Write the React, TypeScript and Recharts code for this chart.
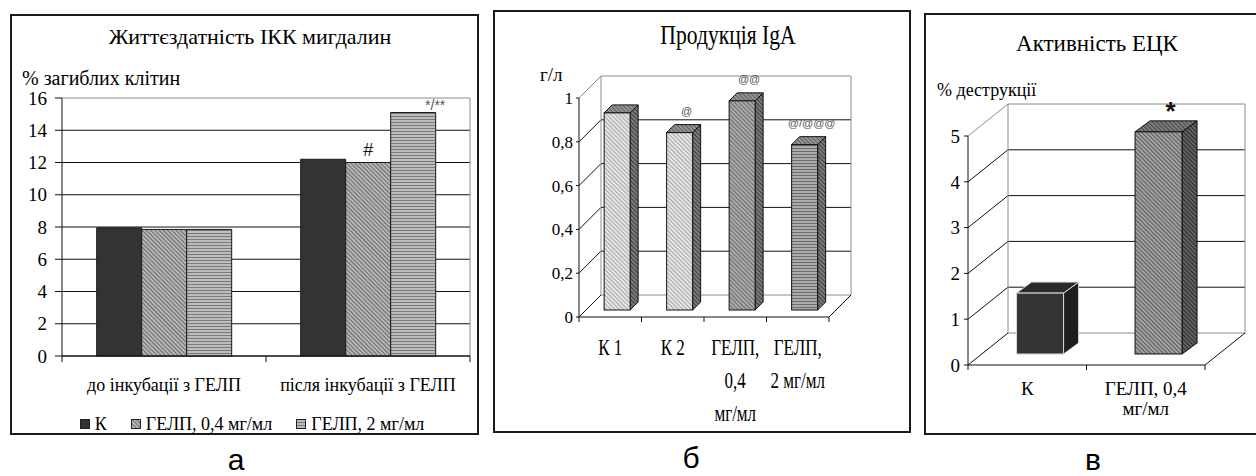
import React from 'react';
import { BarChart, Bar, XAxis, YAxis, CartesianGrid, Legend, LabelList } from 'recharts';

const SERIF = '"Liberation Serif", "Times New Roman", serif';
const SANS = '"Liberation Sans", Arial, sans-serif';

// а) Життєздатність ІКК мигдалин
const viabilityGroups = ['до інкубації з ГЕЛП', 'після інкубації з ГЕЛП'];
const viabilitySeries = ['К', 'ГЕЛП, 0,4 мг/мл', 'ГЕЛП, 2 мг/мл'];
const viabilityK = [7.95, 12.2];
const viabilityGelp04 = [7.85, 12.0];
const viabilityGelp2 = [7.85, 15.1];
const viabilityMarks04 = ['', '#'];
const viabilityMarks2 = ['', '*/**'];
const viabilityTicks = [0, 2, 4, 6, 8, 10, 12, 14, 16];

// б) Продукція IgA
const igaCategories = ['К 1', 'К 2', 'ГЕЛП,\n0,4\nмг/мл', 'ГЕЛП,\n2 мг/мл'];
const igaValues = [0.9, 0.81, 0.955, 0.755];
const igaMarks = ['', '@', '@@', '@/@@@'];
const igaTicks = [0, 0.2, 0.4, 0.6, 0.8, 1];

// в) Активність ЕЦК
const nkCategories = ['К', 'ГЕЛП, 0,4\nмг/мл'];
const nkValues = [1.33, 4.85];
const nkMarks = ['', '*'];
const nkTicks = [0, 1, 2, 3, 4, 5];

const viabilityData = viabilityGroups.map((group, i) => ({
  group,
  k: viabilityK[i],
  g04: viabilityGelp04[i],
  g2: viabilityGelp2[i],
  m04: viabilityMarks04[i],
  m2: viabilityMarks2[i],
}));
const igaData = igaCategories.map((name, i) => ({ name, value: igaValues[i], mark: igaMarks[i] }));
const nkData = nkCategories.map((name, i) => ({ name, value: nkValues[i], mark: nkMarks[i] }));

// hatch fills: id, background, line colour, angle
const hatches: [string, string, string, number][] = [
  ['pa-diag', '#b6b6b6', '#6a6a6a', -45],
  ['pa-stripe', '#bcbcbc', '#7a7a7a', 90],
  ['pb-light', '#e6e6e6', '#a6a6a6', -45],
  ['pb-mid', '#ababab', '#6a6a6a', -45],
  ['pb-stripe', '#acacac', '#6c6c6c', 90],
  ['pb-side', '#7c7c7c', '#3c3c3c', -45],
  ['pb-top', '#959595', '#5e5e5e', -45],
  ['pc-mid', '#a2a2a2', '#5a5a5a', -45],
  ['pc-side', '#626262', '#2a2a2a', -45],
  ['pc-top', '#7c7c7c', '#484848', -45],
];

const hatchDefs = (ids: string[]) => (
  <defs>
    {hatches
      .filter(([id]) => ids.includes(id))
      .map(([id, base, line, angle]) => (
        <pattern key={id} id={id} patternUnits="userSpaceOnUse" width={3} height={3} patternTransform={`rotate(${angle})`}>
          <rect width={3} height={3} fill={base} />
          <line x1={0.5} y1={0} x2={0.5} y2={3} stroke={line} strokeWidth={1} />
        </pattern>
      ))}
  </defs>
);

const INK = '#111';
const EDGE = '#8c8c8c';

// category tick: boundary tick marks (Excel style) + multi-line label
const categoryTick = (cfg: { size: number; first: number; lineH: number; sx?: number; half: number; tickLen: number }) =>
  (props: any) => {
    const { x, y, payload, index, visibleTicksCount } = props;
    const half = payload?.offset || cfg.half;
    const lines = String(payload?.value ?? '').split('\n');
    const sx = cfg.sx ?? 1;
    return (
      <g>
        <line x1={x - half} y1={y} x2={x - half} y2={y + cfg.tickLen} stroke={INK} />
        {index === visibleTicksCount - 1 && (
          <line x1={x + half} y1={y} x2={x + half} y2={y + cfg.tickLen} stroke={INK} />
        )}
        {lines.map((ln, i) => (
          <text
            key={i}
            transform={`translate(${x},${y + cfg.first + i * cfg.lineH}) scale(${sx},1)`}
            textAnchor="middle"
            fontSize={cfg.size}
            fontFamily={SERIF}
            fill="#000"
          >
            {ln}
          </text>
        ))}
      </g>
    );
  };

// flat grid: dark lines, grey frame on top and right
const flatGrid = (p: any) => {
  const { x1, x2, y1, y, height } = p;
  const isTop = Math.abs(y1 - y) < 0.5;
  return (
    <g>
      <line x1={x1} y1={y1} x2={x2} y2={y1} stroke={isTop ? EDGE : INK} />
      {isTop && <line x1={x2} y1={y1} x2={x2} y2={y1 + height} stroke={EDGE} />}
    </g>
  );
};

// 3D walls: side-wall diagonal + back-wall line for every tick
const wallGrid = (dx: number, dy: number) => (p: any) => {
  const { x1, x2, y1, y, height } = p;
  const isTop = Math.abs(y1 - y) < 0.5;
  const isBottom = Math.abs(y1 - (y + height)) < 0.5;
  const by = y1 - dy;
  return (
    <g>
      <line x1={x1} y1={y1} x2={x1 + dx} y2={by} stroke={isTop ? EDGE : INK} />
      <line x1={x1 + dx} y1={by} x2={x2 + dx} y2={by} stroke={isTop || isBottom ? EDGE : INK} />
      {isTop && (
        <>
          <line x1={x1 + dx} y1={by} x2={x1 + dx} y2={by + height} stroke={EDGE} />
          <line x1={x2 + dx} y1={by} x2={x2 + dx} y2={by + height} stroke={EDGE} />
        </>
      )}
      {isBottom && <line x1={x2} y1={y1} x2={x2 + dx} y2={by} stroke={INK} />}
    </g>
  );
};

type BoxStyle = { shift: [number, number]; depth: [number, number]; face: string[]; side: string[]; top: string[]; stroke: string[] };

const box3d = (s: BoxStyle) => (p: any) => {
  const { x, y, width: w, height: h, index } = p;
  if (h == null || isNaN(h)) return null;
  const fx = x + s.shift[0];
  const fy = y - s.shift[1];
  const [ddx, ddy] = s.depth;
  const top = `${fx},${fy} ${fx + ddx},${fy - ddy} ${fx + w + ddx},${fy - ddy} ${fx + w},${fy}`;
  const side = `${fx + w},${fy} ${fx + w + ddx},${fy - ddy} ${fx + w + ddx},${fy + h - ddy} ${fx + w},${fy + h}`;
  return (
    <g>
      <polygon points={side} fill={s.side[index]} stroke={s.stroke[index]} />
      <polygon points={top} fill={s.top[index]} stroke={s.stroke[index]} />
      <rect x={fx} y={fy} width={w} height={h} fill={s.face[index]} stroke={s.stroke[index]} />
    </g>
  );
};

const markLabel = (o: { dx: number; dy: number; size: number; color: string; weight?: number }) => (p: any) => {
  if (!p.value) return null;
  const vb = p.viewBox ?? p;
  const x = (vb.x ?? p.x) + (vb.width ?? p.width) / 2 + o.dx;
  const y = (vb.y ?? p.y) + o.dy;
  return (
    <text x={x} y={y} textAnchor="middle" fontSize={o.size} fontFamily={SANS} fill={o.color} fontWeight={o.weight ?? 400}>
      {p.value}
    </text>
  );
};

const viabilityLegend = (props: any) => {
  const items = [...(props.payload || [])].sort(
    (a: any, b: any) => viabilitySeries.indexOf(a.value) - viabilitySeries.indexOf(b.value)
  );
  return (
    <div style={{ display: 'flex', justifyContent: 'center', gap: 24, fontSize: 18, lineHeight: '18px', fontFamily: SERIF, paddingLeft: 14 }}>
      {items.map((e: any) => (
        <span key={e.value} style={{ display: 'inline-flex', alignItems: 'center', gap: 5 }}>
          <svg width={10} height={10}>
            <rect x={0.5} y={0.5} width={9} height={9} fill={e.payload?.fill ?? e.color} stroke="#222" />
          </svg>
          {e.value}
        </span>
      ))}
    </div>
  );
};

const Text = ({ x, y, size, children, sx = 1, center = true, font = SERIF }: any) => (
  <div
    style={{
      position: 'absolute',
      left: x,
      top: y,
      fontSize: size,
      fontFamily: font,
      lineHeight: 1,
      whiteSpace: 'nowrap',
      color: '#000',
      transform: `translate(${center ? '-50%' : '0'}, -50%) scaleX(${sx})`,
      transformOrigin: center ? '50% 50%' : '0 50%',
    }}
  >
    {children}
  </div>
);

const Frame = ({ left, top, width, height }: any) => (
  <div style={{ position: 'absolute', left, top, width, height, border: '2px solid #1a1a1a', boxSizing: 'border-box' }} />
);

const commaFmt = (v: number) => String(v).replace('.', ',');

export default function App() {
  return (
    <div style={{ position: 'fixed', left: 0, top: 0, width: 1256, height: 476, background: '#fff', overflow: 'hidden', fontFamily: SERIF }}>
      {/* а */}
      <Frame left={10} top={14} width={469} height={421} />
      <div style={{ position: 'absolute', left: 10, top: 14 }}>
        <BarChart width={469} height={421} data={viabilityData} margin={{ top: 84, right: 9, left: 10, bottom: 2 }} barCategoryGap="17%" barGap={0}>
          {hatchDefs(['pa-diag', 'pa-stripe'])}
          <CartesianGrid vertical={false} horizontal={flatGrid} />
          <XAxis
            dataKey="group"
            interval={0}
            height={59}
            tickSize={0}
            tickMargin={0}
            axisLine={{ stroke: INK }}
            tick={categoryTick({ size: 18, first: 35, lineH: 20, half: 102, tickLen: 6 })}
          />
          <YAxis
            width={42}
            domain={[0, 16]}
            ticks={viabilityTicks}
            interval={0}
            tickSize={7}
            tickMargin={8}
            axisLine={{ stroke: INK }}
            tickLine={{ stroke: INK }}
            tick={{ fontSize: 19, fill: '#000', fontFamily: SERIF }}
          />
          <Legend verticalAlign="bottom" height={18} content={viabilityLegend} />
          <Bar dataKey="k" name={viabilitySeries[0]} fill="#333333" stroke="#1a1a1a" isAnimationActive={false} />
          <Bar dataKey="g04" name={viabilitySeries[1]} fill="url(#pa-diag)" stroke="#1a1a1a" isAnimationActive={false}>
            <LabelList dataKey="m04" content={markLabel({ dx: 0, dy: -7, size: 18, color: '#111' })} />
          </Bar>
          <Bar dataKey="g2" name={viabilitySeries[2]} fill="url(#pa-stripe)" stroke="#1a1a1a" isAnimationActive={false}>
            <LabelList dataKey="m2" content={markLabel({ dx: 22, dy: -3, size: 14, color: '#555' })} />
          </Bar>
        </BarChart>
      </div>
      <Text x={250} y={37} size={22}>Життєздатність ІКК мигдалин</Text>
      <Text x={22} y={78} size={20} center={false}>% загиблих клітин</Text>

      {/* б */}
      <Frame left={493} top={10} width={418} height={423} />
      <div style={{ position: 'absolute', left: 493, top: 10 }}>
        <BarChart width={418} height={423} data={igaData} margin={{ top: 88, right: 82, left: 46, bottom: 0 }} barCategoryGap="29%">
          {hatchDefs(['pb-light', 'pb-mid', 'pb-stripe', 'pb-side', 'pb-top'])}
          <CartesianGrid vertical={false} horizontal={wallGrid(22, 22)} />
          <XAxis
            dataKey="name"
            interval={0}
            height={116}
            tickSize={0}
            tickMargin={0}
            axisLine={{ stroke: INK }}
            tick={categoryTick({ size: 23, first: 38, lineH: 33, sx: 0.74, half: 31.25, tickLen: 5 })}
          />
          <YAxis
            width={40}
            domain={[0, 1]}
            ticks={igaTicks}
            interval={0}
            tickSize={3}
            tickMargin={3}
            tickFormatter={commaFmt}
            axisLine={{ stroke: INK }}
            tickLine={{ stroke: INK }}
            tick={{ fontSize: 17, fill: '#000', fontFamily: SERIF }}
          />
          <Bar
            dataKey="value"
            isAnimationActive={false}
            shape={box3d({
              shift: [7, 7],
              depth: [8, 8],
              face: ['url(#pb-light)', 'url(#pb-light)', 'url(#pb-mid)', 'url(#pb-stripe)'],
              side: ['url(#pb-side)', 'url(#pb-side)', 'url(#pb-side)', 'url(#pb-side)'],
              top: ['url(#pb-top)', 'url(#pb-top)', 'url(#pb-top)', 'url(#pb-top)'],
              stroke: [INK, INK, INK, INK],
            })}
          >
            <LabelList dataKey="mark" content={markLabel({ dx: 14, dy: -25, size: 11, color: '#555' })} />
          </Bar>
        </BarChart>
      </div>
      <Text x={728} y={35} size={27} sx={0.8}>Продукція IgA</Text>
      <Text x={540} y={74} size={19} center={false}>г/л</Text>

      {/* в */}
      <Frame left={924} top={13} width={340} height={422} />
      <div style={{ position: 'absolute', left: 924, top: 13 }}>
        <BarChart width={334} height={422} data={nkData} margin={{ top: 123, right: 53, left: 12, bottom: 0 }} barCategoryGap="30%">
          {hatchDefs(['pc-mid', 'pc-side', 'pc-top'])}
          <CartesianGrid vertical={false} horizontal={wallGrid(40, 32)} />
          <XAxis
            dataKey="name"
            interval={0}
            height={70}
            tickSize={0}
            tickMargin={0}
            axisLine={{ stroke: INK }}
            tick={categoryTick({ size: 19, first: 30, lineH: 20, half: 59.25, tickLen: 5 })}
          />
          <YAxis
            width={32}
            domain={[0, 5]}
            ticks={nkTicks}
            interval={0}
            tickSize={4}
            tickMargin={4}
            axisLine={{ stroke: INK }}
            tickLine={{ stroke: INK }}
            tick={{ fontSize: 19, fill: '#000', fontFamily: SERIF }}
          />
          <Bar
            dataKey="value"
            isAnimationActive={false}
            shape={box3d({
              shift: [13, 11],
              depth: [15, 11],
              face: ['#333333', 'url(#pc-mid)'],
              side: ['#1e1e1e', 'url(#pc-side)'],
              top: ['#2a2a2a', 'url(#pc-top)'],
              stroke: ['#d8d8d8', INK],
            })}
          >
            <LabelList dataKey="mark" content={markLabel({ dx: 25, dy: -23, size: 26, color: '#111', weight: 700 })} />
          </Bar>
        </BarChart>
      </div>
      <Text x={1097} y={43} size={23}>Активність ЕЦК</Text>
      <Text x={937} y={90} size={18} center={false}>% деструкції</Text>

      <Text x={236} y={460} size={30} font={SANS}>а</Text>
      <Text x={691} y={458} size={30} font={SANS}>б</Text>
      <Text x={1093} y={460} size={30} font={SANS}>в</Text>
    </div>
  );
}
